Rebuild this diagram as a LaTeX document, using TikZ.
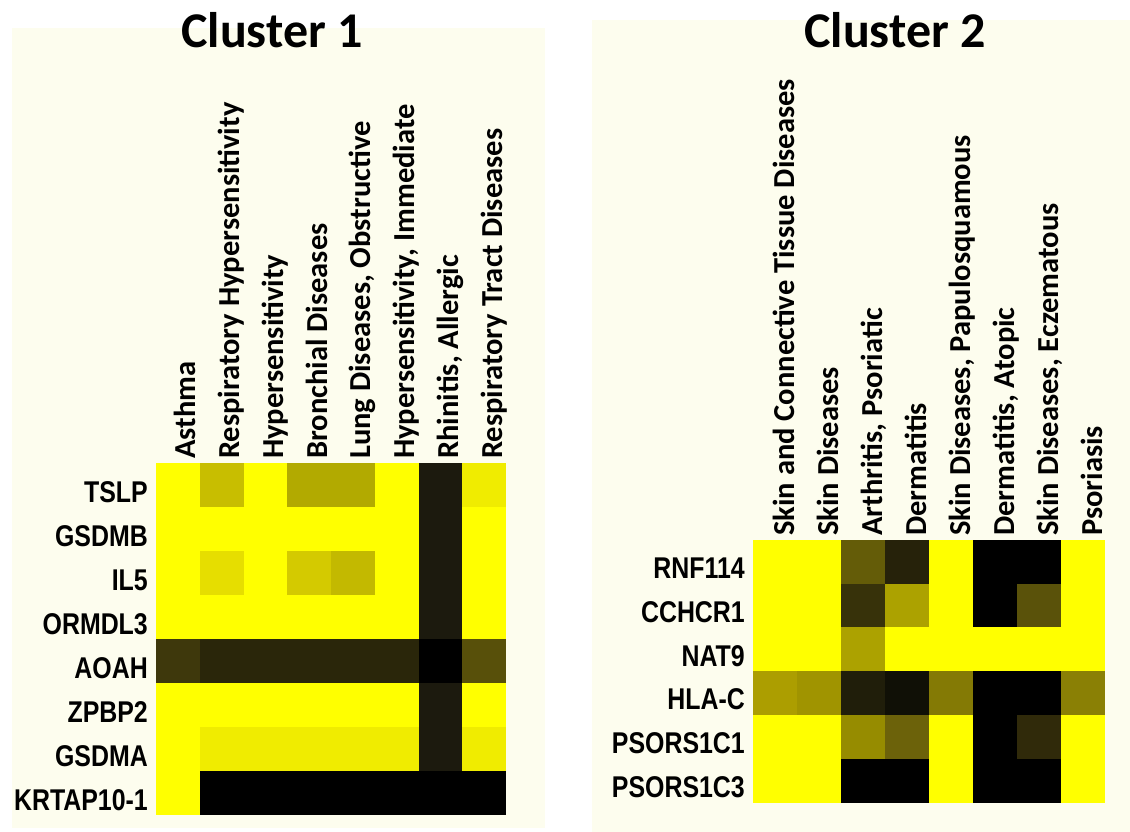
\documentclass[tikz,border=0pt]{standalone}
\usepackage{fontspec}
\setmainfont{Liberation Sans}
\newfontfamily\calfont{Carlito}
\newfontfamily\narrowfont{Liberation Sans}[FakeStretch=0.83]
\definecolor{cream}{RGB}{253,253,238}
\definecolor{Y}{RGB}{255,255,0}
\definecolor{yA}{RGB}{240,236,0}
\definecolor{oM}{RGB}{200,190,0}
\definecolor{oD}{RGB}{178,170,0}
\definecolor{iLa}{RGB}{230,222,0}
\definecolor{iLb}{RGB}{212,202,0}
\definecolor{iLc}{RGB}{195,185,0}
\definecolor{bkA}{RGB}{28,26,14}
\definecolor{aoA}{RGB}{62,56,12}
\definecolor{aoB}{RGB}{42,38,10}
\definecolor{aoC}{RGB}{88,80,10}
\definecolor{K}{RGB}{0,0,0}
\definecolor{dA}{RGB}{100,92,8}
\definecolor{dB}{RGB}{38,34,10}
\definecolor{dC}{RGB}{55,50,10}
\definecolor{dD}{RGB}{172,162,0}
\definecolor{dE}{RGB}{90,82,10}
\definecolor{hA}{RGB}{172,158,0}
\definecolor{hB}{RGB}{160,148,0}
\definecolor{hC}{RGB}{32,30,10}
\definecolor{hD}{RGB}{16,16,6}
\definecolor{hE}{RGB}{132,122,5}
\definecolor{hF}{RGB}{138,128,5}
\definecolor{pA}{RGB}{150,140,0}
\definecolor{pB}{RGB}{108,98,10}
\definecolor{pC}{RGB}{48,42,10}
\tikzset{
  ttl/.style={font=\calfont\bfseries\fontsize{50}{52}\selectfont, inner sep=0pt, anchor=base},
  collab/.style={font=\calfont\bfseries\fontsize{30.5}{32}\selectfont, inner sep=0pt, rotate=90, anchor=base west},
  rowlab/.style={font=\narrowfont\bfseries\fontsize{30}{32}\selectfont, inner sep=0pt, anchor=base east},
}
\begin{document}
\begin{tikzpicture}[x=1pt,y=-1pt]
\useasboundingbox (0,0) rectangle (1130,832);
\fill[white] (0,0) rectangle (1130,832);
\fill[cream] (12,28) rectangle (545,828);
\fill[cream] (592,20) rectangle (1130,832);
% titles
\node[ttl] (title1) at (272,48) {Cluster 1};
\node[ttl] (title2) at (895,48) {Cluster 2};
% heatmap 1
\foreach \row [count=\r] in {
  {Y,oM,Y,oD,oD,Y,bkA,yA},
  {Y,Y,Y,Y,Y,Y,bkA,Y},
  {Y,iLa,Y,iLb,iLc,Y,bkA,Y},
  {Y,Y,Y,Y,Y,Y,bkA,Y},
  {aoA,aoB,aoB,aoB,aoB,aoB,K,aoC},
  {Y,Y,Y,Y,Y,Y,bkA,Y},
  {Y,yA,yA,yA,yA,yA,bkA,yA},
  {Y,K,K,K,K,K,K,K}}{
  \foreach \c [count=\i] in \row {
    \fill[\c] ({156+(\i-1)*43.75},{463+(\r-1)*44}) rectangle ++(44.1,44.3);
  }
}
\foreach \t [count=\i] in {Asthma,Respiratory Hypersensitivity,Hypersensitivity,Bronchial Diseases,{Lung Diseases, Obstructive},{Hypersensitivity, Immediate},{Rhinitis, Allergic},Respiratory Tract Diseases}{
  \node[collab] (ca\i) at ({156+\i*43.75-4},459) {\t};
}
\foreach \t [count=\r] in {TSLP,GSDMB,IL5,ORMDL3,AOAH,ZPBP2,GSDMA,KRTAP10-1}{
  \node[rowlab] (ra\r) at (148,{463+\r*44-5}) {\t};
}
% heatmap 2
\foreach \row [count=\r] in {
  {Y,Y,dA,dB,Y,K,K,Y},
  {Y,Y,dC,dD,Y,K,dE,Y},
  {Y,Y,dD,Y,Y,Y,Y,Y},
  {hA,hB,hC,hD,hE,K,K,hF},
  {Y,Y,pA,pB,Y,K,pC,Y},
  {Y,Y,K,K,Y,K,K,Y}}{
  \foreach \c [count=\i] in \row {
    \fill[\c] ({753+(\i-1)*44},{540+(\r-1)*43.7}) rectangle ++(44.3,44);
  }
}
\foreach \t [count=\i] in {Skin and Connective Tissue Diseases,Skin Diseases,{Arthritis, Psoriatic},Dermatitis,{Skin Diseases, Papulosquamous},{Dermatitis, Atopic},{Skin Diseases, Eczematous},Psoriasis}{
  \node[collab] (cb\i) at ({753+\i*44-3},536) {\t};
}
\foreach \t [count=\r] in {RNF114,CCHCR1,NAT9,HLA-C,PSORS1C1,PSORS1C3}{
  \node[rowlab] (rb\r) at (745,{540+\r*43.7-5}) {\t};
}
\end{tikzpicture}
\end{document}
